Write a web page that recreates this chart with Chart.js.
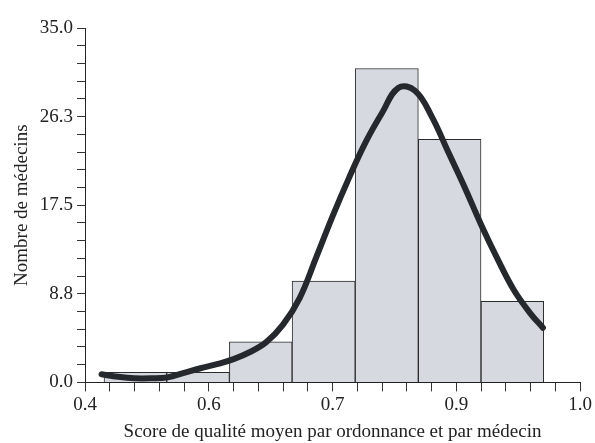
<!DOCTYPE html>
<html>
<head>
<meta charset="utf-8">
<script src="https://cdn.jsdelivr.net/npm/chart.js@4/dist/chart.umd.min.js"></script>
<style>
  body { margin: 0; background: #fff; }
</style>
</head>
<body>
<canvas id="histChart" width="595" height="443"></canvas>
<script>
// bin centres and counts of the histogram
var binCenters = [0.461, 0.537, 0.613, 0.689, 0.766, 0.842, 0.918];
var counts = [1, 1, 4, 10, 31, 24, 8];
// fitted density curve, every 0.02
var curveX = [0.42, 0.44, 0.46, 0.48, 0.50, 0.52, 0.54, 0.56, 0.58, 0.60, 0.62, 0.64, 0.66, 0.68, 0.70, 0.72, 0.74, 0.76, 0.78, 0.80, 0.82, 0.84, 0.86, 0.88, 0.90, 0.92, 0.94, 0.955];
var curveY = [0.8, 0.55, 0.4, 0.4, 0.5, 0.95, 1.4, 1.8, 2.3, 3.0, 4.0, 5.7, 8.3, 12.3, 16.4, 20.2, 23.7, 26.6, 29.1, 28.8, 26.3, 22.8, 19.3, 15.6, 12.2, 9.1, 6.8, 5.4];
// axis labels (only every fifth tick carries one)
var xTickLabels = ['0.4', '0.6', '0.7', '0.9', '1.0'];
var yTickLabels = ['0.0', '8.8', '17.5', '26.3', '35.0'];

var barPoints = binCenters.map(function (x, i) { return { x: x, y: counts[i] }; });
var curvePoints = curveX.map(function (x, i) { return { x: x, y: curveY[i] }; });

var serif = "'Liberation Serif', 'Times New Roman', serif";
var tickFont = { family: serif, size: 19 };
var titleFont = { family: serif, size: 19 };

var ctx = document.getElementById("histChart");
var myChart = new Chart(ctx, {
  type: 'bar',
  data: {
    datasets: [
      {
        type: 'line',
        data: curvePoints,
        borderColor: '#25282c',
        borderWidth: 6,
        borderCapStyle: 'round',
        pointRadius: 0,
        tension: 0.4,
        fill: false,
        order: 0
      },
      {
        type: 'bar',
        data: barPoints,
        backgroundColor: '#d6d9e0',
        borderColor: '#2a2a2a',
        borderWidth: 1,
        barThickness: 'flex',   // width from neighbouring bins, not from the minor ticks
        barPercentage: 1,
        categoryPercentage: 1,
        order: 1
      }
    ]
  },
  options: {
    responsive: false,
    animation: false,
    layout: { padding: { left: 11, right: 15, top: 28, bottom: 0 } },
    plugins: { legend: { display: false }, tooltip: { enabled: false } },
    scales: {
      x: {
        type: 'linear',
        min: 0.4,
        max: 1.0,
        offset: false,
        grid: { offset: false, drawOnChartArea: false, drawTicks: true, tickLength: 9, color: '#333' },
        border: { display: true, color: '#222', width: 1 },
        ticks: {
          stepSize: 0.03,
          autoSkip: false,
          maxRotation: 0,
          color: '#222',
          font: tickFont,
          padding: 2,
          callback: function (v, i) { return i % 5 === 0 ? xTickLabels[i / 5] : ''; }
        },
        title: { display: true, text: 'Score de qualité moyen par ordonnance et par médecin', color: '#222', font: titleFont, padding: { top: 2, bottom: 0 } }
      },
      y: {
        min: 0,
        max: 35,
        grid: { drawOnChartArea: false, drawTicks: true, tickLength: 8, color: '#333' },
        border: { display: true, color: '#222', width: 1 },
        ticks: {
          stepSize: 1.75,
          autoSkip: false,
          color: '#222',
          font: tickFont,
          padding: 4,
          callback: function (v, i) { return i % 5 === 0 ? yTickLabels[i / 5] : ''; }
        },
        title: { display: true, text: 'Nombre de médecins', color: '#222', font: titleFont, padding: { top: 0, bottom: 2 } }
      }
    }
  }
});
</script>
</body>
</html>
